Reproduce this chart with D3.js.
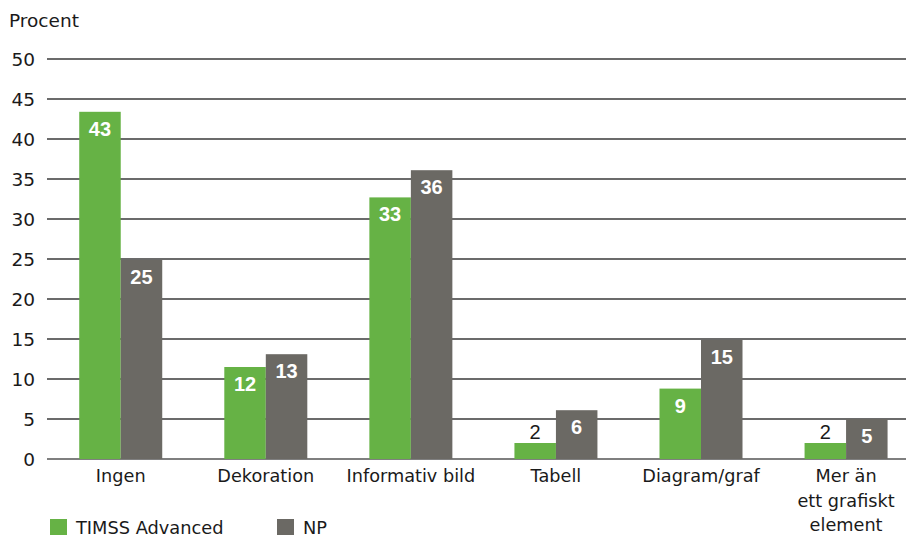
<!DOCTYPE html>
<html>
<head>
<meta charset="utf-8">
<script src="https://cdn.jsdelivr.net/npm/d3@7"></script>
<style>
  html, body { margin: 0; padding: 0; background: #fff; }
  svg { display: block; }
</style>
</head>
<body>
<svg id="chart" width="906" height="538"></svg>
<script>
// Share of items by type of graphic element, per test
const categories = ["Ingen", "Dekoration", "Informativ bild", "Tabell", "Diagram/graf", "Mer än ett grafiskt element"];
const categoryLines = [["Ingen"], ["Dekoration"], ["Informativ bild"], ["Tabell"], ["Diagram/graf"], ["Mer än", "ett grafiskt", "element"]];
const seriesNames = ["TIMSS Advanced", "NP"];
const timssValues = [43.4, 11.5, 32.7, 2.0, 8.8, 2.0];
const npValues = [24.9, 13.1, 36.1, 6.1, 14.9, 5.0];
const yTicks = [0, 5, 10, 15, 20, 25, 30, 35, 40, 45, 50];
const yTitle = "Procent";

const colors = { "TIMSS Advanced": "#66b245", "NP": "#6b6964" };
const tickFont = "'DejaVu Sans', sans-serif";
const valueFont = "'Liberation Sans', Arial, sans-serif";

const svg = d3.select("#chart");

const y = d3.scaleLinear().domain([0, 50]).range([459, 59]);
const x0 = d3.scaleBand().domain(categories).range([48.2, 918.6]).padding(0);
const pairWidth = 83;
const x1 = d3.scaleBand().domain(seriesNames).range([0, pairWidth]).padding(0);
const pairOffset = (x0.bandwidth() - pairWidth) / 2;

// Horizontal grid lines with tick labels
const grid = svg.append("g");
grid.selectAll("line").data(yTicks).join("line")
  .attr("x1", 47).attr("x2", 906)
  .attr("y1", d => y(d)).attr("y2", d => y(d))
  .attr("stroke", d => d === 0 ? "#555" : "#3a3a3a")
  .attr("stroke-width", 1.3);

const yAxis = d3.axisLeft(y).tickValues(yTicks).tickSize(0).tickPadding(0);
const yAxisG = svg.append("g").attr("transform", "translate(35,0)").call(yAxis);
yAxisG.select(".domain").remove();
yAxisG.selectAll("text")
  .attr("font-family", tickFont).attr("font-size", 18.5).attr("fill", "#1a1a1a")
  .attr("dy", "0.36em");

svg.append("text").attr("x", 9).attr("y", 27)
  .attr("font-family", tickFont).attr("font-size", 18.5).attr("fill", "#1a1a1a")
  .text(yTitle);

// Bars
const rows = categories.map((c, i) => ({
  category: c,
  values: [
    { series: "TIMSS Advanced", value: timssValues[i] },
    { series: "NP", value: npValues[i] }
  ]
}));

const groups = svg.append("g").selectAll("g").data(rows).join("g")
  .attr("transform", d => `translate(${x0(d.category) + pairOffset},0)`);

groups.selectAll("rect").data(d => d.values).join("rect")
  .attr("x", d => x1(d.series))
  .attr("y", d => y(d.value))
  .attr("width", x1.bandwidth())
  .attr("height", d => y(0) - y(d.value))
  .attr("fill", d => colors[d.series]);

// Value labels: inside the bar top when it fits, otherwise above it
const fmt = d3.format(".0f");
const fitsInside = d => (y(0) - y(d.value)) > 30;
groups.selectAll("text.value").data(d => d.values).join("text")
  .attr("class", "value")
  .attr("x", d => x1(d.series) + x1.bandwidth() / 2)
  .attr("y", d => fitsInside(d) ? y(d.value) + 24 : y(d.value) - 4)
  .attr("text-anchor", "middle")
  .attr("font-family", valueFont)
  .attr("font-size", 20)
  .attr("font-weight", d => fitsInside(d) ? "bold" : "normal")
  .attr("fill", d => fitsInside(d) ? "#ffffff" : "#1a1a1a")
  .text(d => fmt(d.value));

// Category labels
const xLabels = svg.append("g").selectAll("text").data(categories).join("text")
  .attr("x", d => x0(d) + x0.bandwidth() / 2)
  .attr("y", 482)
  .attr("text-anchor", "middle")
  .attr("font-family", tickFont).attr("font-size", 17.7).attr("fill", "#1a1a1a");
xLabels.selectAll("tspan").data((d, i) => categoryLines[i]).join("tspan")
  .attr("x", function() { return d3.select(this.parentNode).attr("x"); })
  .attr("dy", (d, i) => i === 0 ? 0 : 24.5)
  .text(d => d);

// Legend
const legendX = [50, 277];
const legend = svg.append("g").selectAll("g").data(seriesNames).join("g")
  .attr("transform", (d, i) => `translate(${legendX[i]},519)`);
legend.append("rect").attr("width", 17).attr("height", 16).attr("fill", d => colors[d]);
legend.append("text").attr("x", 26).attr("y", 14.5)
  .attr("font-family", tickFont).attr("font-size", 17.8).attr("fill", "#1a1a1a")
  .text(d => d);
</script>
</body>
</html>
